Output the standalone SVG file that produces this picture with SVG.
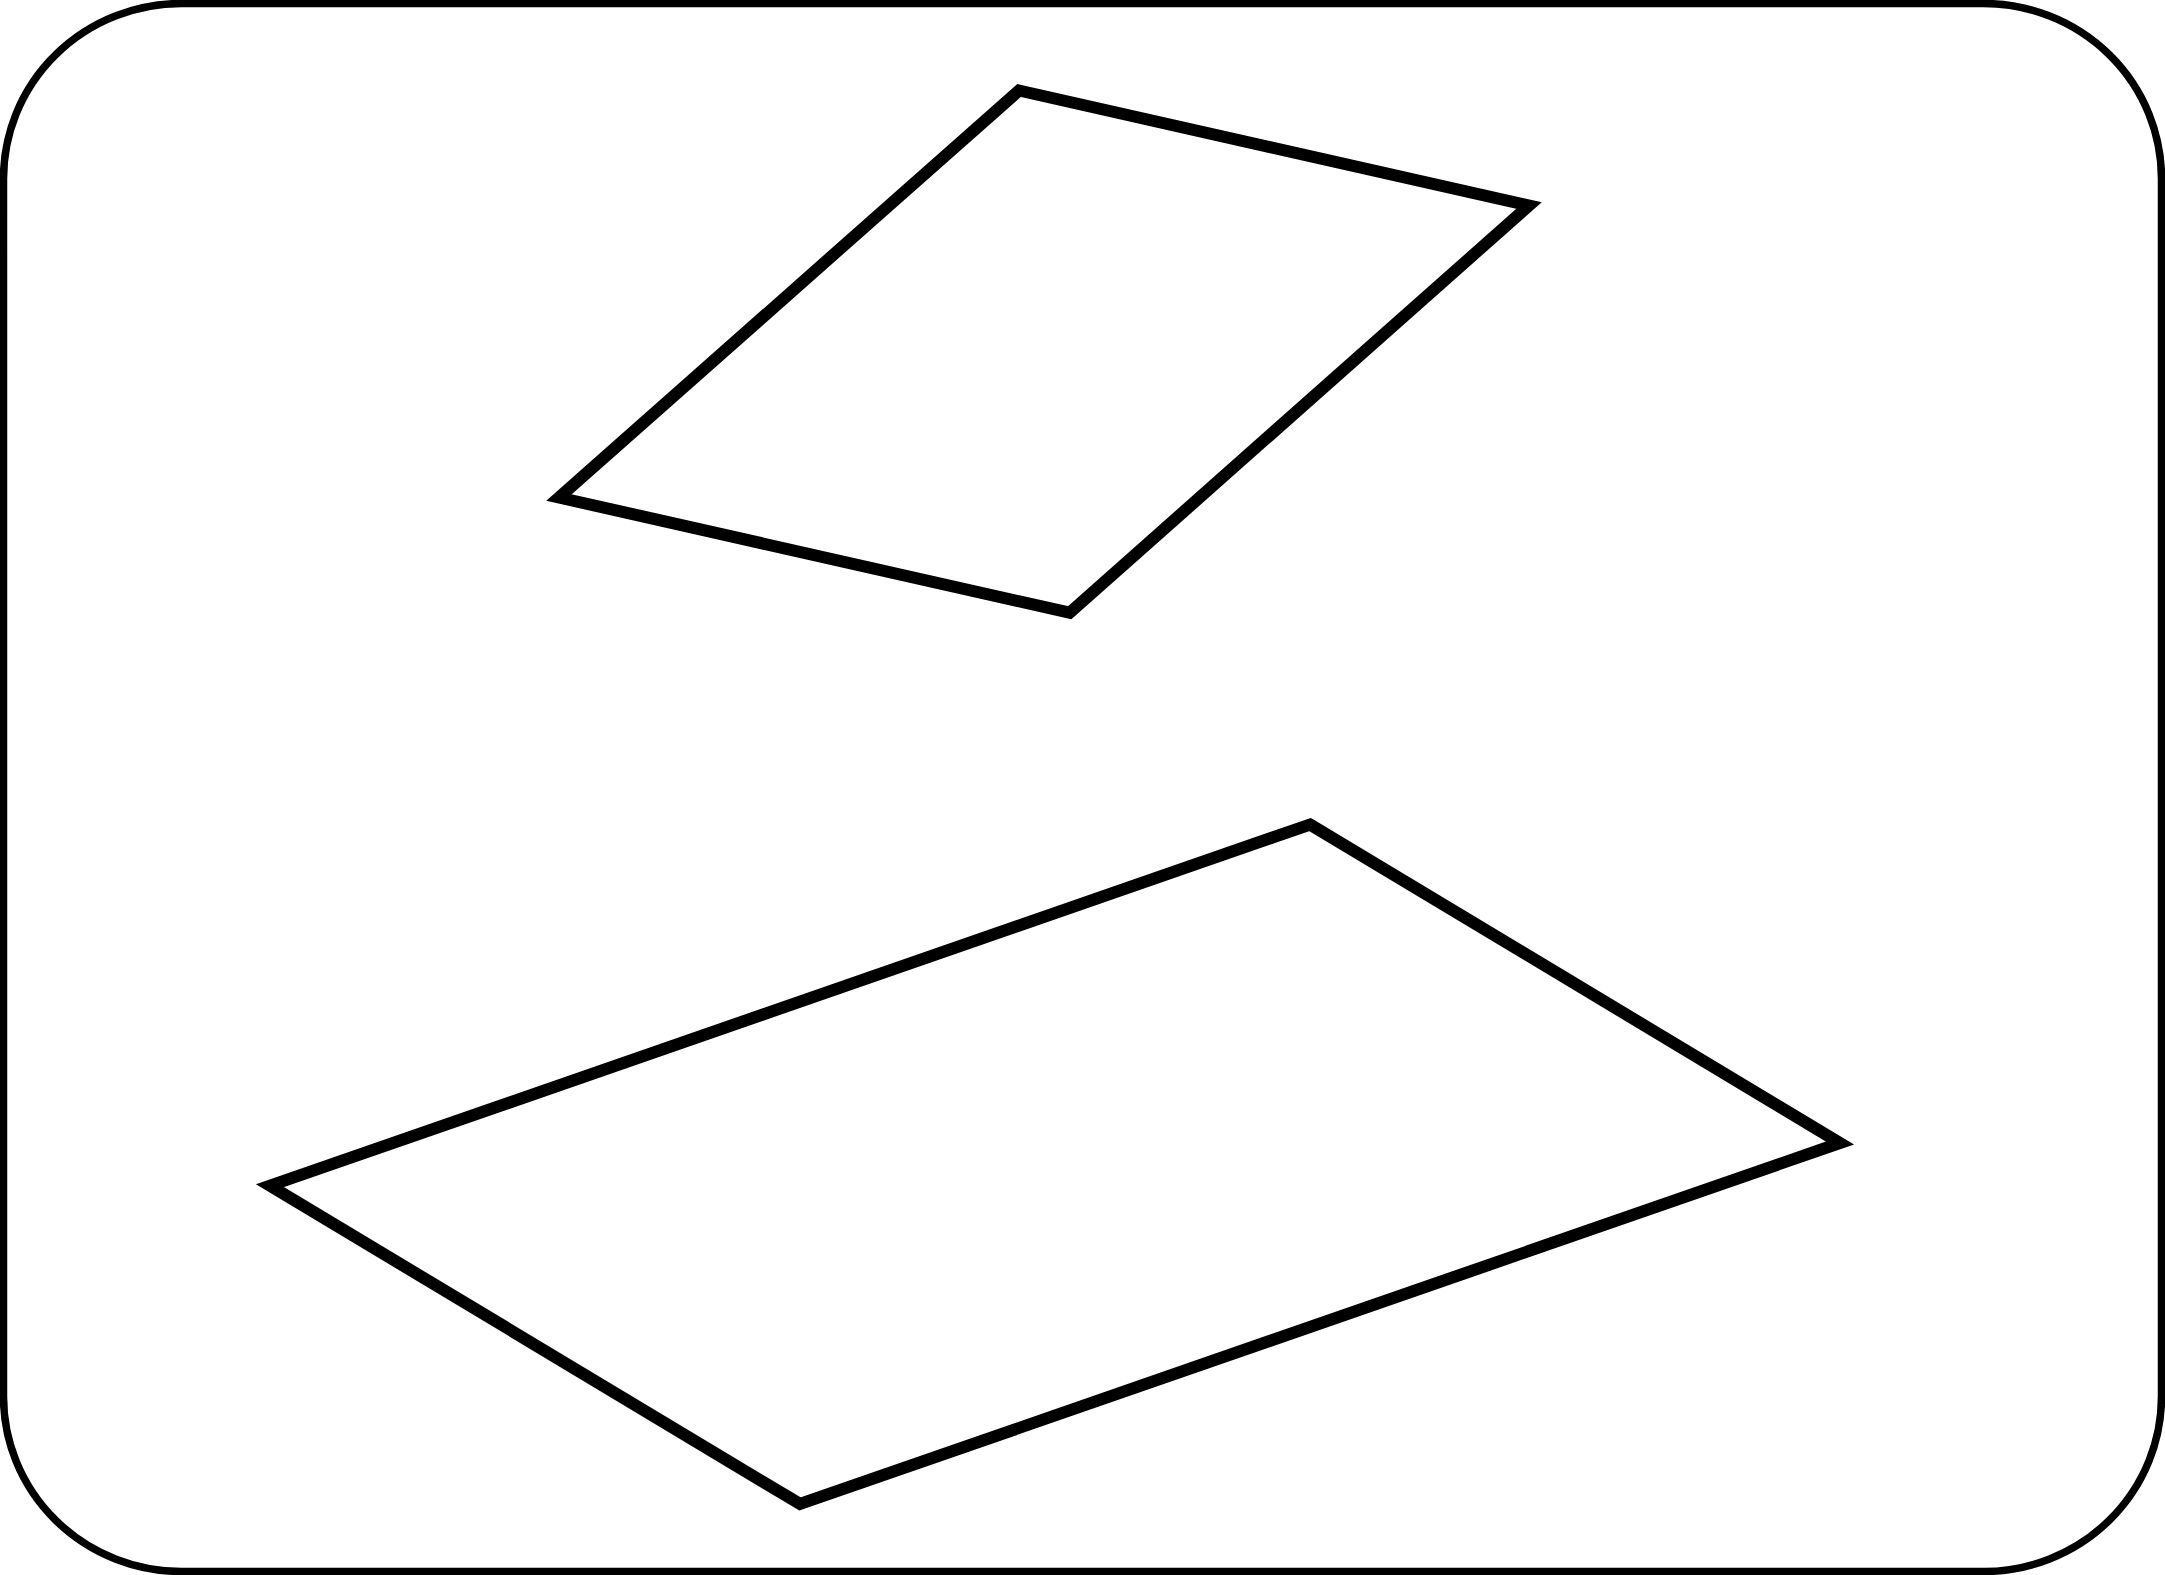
<svg xmlns="http://www.w3.org/2000/svg" width="2165" height="1575" viewBox="0 0 2165 1575">
<style>
.frame{fill:#ffffff;stroke:#000000;stroke-width:7.5}
.plane{fill:none;stroke:#000000;stroke-width:12;stroke-linejoin:miter;stroke-miterlimit:10}
</style>
<rect class="frame" x="3.5" y="3.5" width="2158" height="1568" rx="178" ry="175"/>
<g id="plane-top">
<polygon class="plane" points="1019,90.5 1529,205.5 1069.7,612.7 559,497.5"/>
</g>
<g id="plane-bottom">
<polygon class="plane" points="1310,824.5 1840,1143 800,1504 270,1185.7"/>
</g>
<g id="connectors"></g>
</svg>
